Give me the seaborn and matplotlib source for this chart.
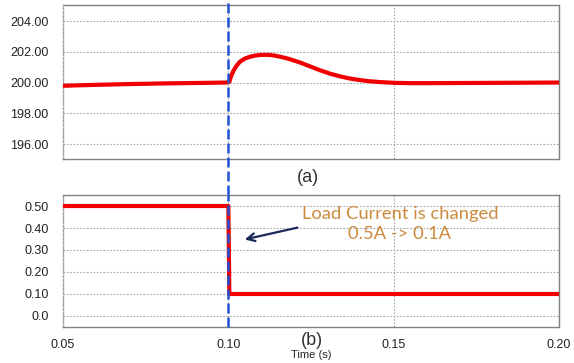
import matplotlib
matplotlib.use("Agg")
import matplotlib.pyplot as plt
import seaborn as sns
import pandas as pd

# ---- data ----
time_a = [0.05, 0.06, 0.07, 0.08, 0.09, 0.0995, 0.1003, 0.1008, 0.1015, 0.1025,
          0.1035, 0.105, 0.1066, 0.108, 0.1096, 0.111, 0.1126, 0.114, 0.1156, 0.117,
          0.1186, 0.120, 0.1217, 0.1247, 0.1277, 0.1307, 0.1338, 0.1368, 0.1398, 0.1428,
          0.1459, 0.1504, 0.155, 0.16, 0.17, 0.18, 0.19, 0.20]
volt_a = [199.79, 199.85, 199.90, 199.94, 199.97, 200.00, 200.05, 200.40, 200.75, 201.10,
          201.35, 201.56, 201.68, 201.75, 201.79, 201.80, 201.79, 201.75, 201.68, 201.61,
          201.52, 201.42, 201.30, 201.05, 200.80, 200.58, 200.40, 200.26, 200.16, 200.08,
          200.03, 199.98, 199.96, 199.96, 199.97, 199.98, 199.99, 200.00]
time_b = [0.05, 0.1, 0.1003, 0.2]
current_b = [0.5, 0.5, 0.1, 0.1]
xticks = [0.05, 0.10, 0.15, 0.20]
xtick_labels = ["0.05", "0.10", "0.15", "0.20"]
yticks_a = [196, 198, 200, 202, 204]
ytick_labels_a = ["196.00", "198.00", "200.00", "202.00", "204.00"]
yticks_b = [0.0, 0.1, 0.2, 0.3, 0.4, 0.5]
ytick_labels_b = ["0.0", "0.10", "0.20", "0.30", "0.40", "0.50"]
change_time = 0.10

sns.set_theme(style="white")
plt.rcParams['font.family'] = ['Liberation Sans', 'DejaVu Sans']

fig = plt.figure(figsize=(5.74, 3.63), dpi=100)
ax1 = fig.add_axes([0.1098, 0.562, 0.8641, 0.4242])
ax2 = fig.add_axes([0.1098, 0.0992, 0.8641, 0.3636])

red = "#f00000"
blue = "#2050d4"

df_a = pd.DataFrame({"t": time_a, "v": volt_a})
df_b = pd.DataFrame({"t": time_b, "i": current_b})
sns.lineplot(data=df_a, x="t", y="v", ax=ax1, color=red, linewidth=3, zorder=4, estimator=None, sort=False)
sns.lineplot(data=df_b, x="t", y="i", ax=ax2, color=red, linewidth=3, zorder=4, estimator=None, sort=False)

for ax, yt, ytl, ylim in [(ax1, yticks_a, ytick_labels_a, (195.03, 205.04)),
                          (ax2, yticks_b, ytick_labels_b, (-0.05, 0.55))]:
    ax.set_xlim(0.05, 0.20)
    ax.set_ylim(*ylim)
    ax.set_yticks(yt)
    ax.set_yticklabels(ytl)
    ax.set_xticks(xticks)
    ax.grid(True, linestyle=(0, (1.5, 1.5)), color="#a8a8a8", linewidth=0.8)
    ax.tick_params(axis="both", length=0, labelsize=9, colors="#222222")
    ax.tick_params(axis="y", pad=10.5)
    ax.set_xlabel("")
    ax.set_ylabel("")
    for s in ["top", "right", "bottom"]:
        ax.spines[s].set_color("#808080")
        ax.spines[s].set_linewidth(1.0)
    ax.spines["left"].set_color("#a0a0a0")
    ax.spines["left"].set_linestyle((0, (1.5, 1.5)))
    ax.spines["left"].set_linewidth(1.0)

ax1.set_xticklabels([])
ax2.set_xticklabels(xtick_labels)
ax2.tick_params(axis="x", pad=9)
ax2.set_xlabel("Time (s)", fontsize=8, labelpad=-1)

# vertical dashed change marker
ax1.axvline(change_time, ymin=-0.234, ymax=1.04, color=blue, linewidth=1.8,
            linestyle=(0, (4, 1.6)), clip_on=False, zorder=5)
ax2.axvline(change_time, ymin=0, ymax=1, color=blue, linewidth=1.8,
            linestyle=(0, (4, 1.6)), clip_on=False, zorder=5)

fig.text(0.537, 0.512, "(a)", ha="center", va="center", fontsize=13, color="#333333")
ax2.text(0.1253, -0.11, "(b)", ha="center", va="center", fontsize=13, color="#333333")

ax2.text(0.1519, 0.418, "Load Current is changed\n0.5A -> 0.1A", ha="center", va="center",
         fontsize=13.2, color="#cc8a3e", family=["Lato", "DejaVu Sans"], linespacing=1.3, zorder=6)
ax2.annotate("", xy=(0.1041, 0.345), xytext=(0.1217, 0.4045),
             arrowprops=dict(arrowstyle="->", color="#1b2a5a", lw=1.6, mutation_scale=14), zorder=6)

fig.savefig("out.png", dpi=100)
